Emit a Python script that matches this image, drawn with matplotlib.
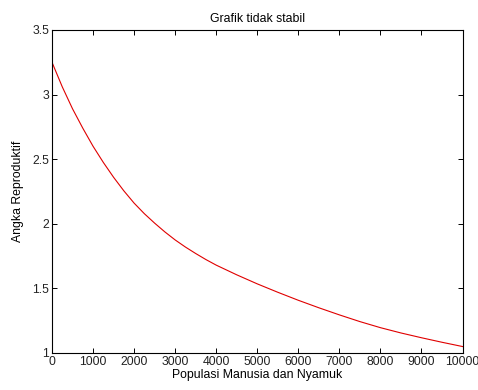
import matplotlib
matplotlib.use("Agg")
import matplotlib.pyplot as plt

# Data
populasi = [0, 250, 500, 750, 1000, 1250, 1500, 1750, 2000, 2250, 2500, 2750,
            3000, 3250, 3500, 3750, 4000, 4500, 5000,
            5500, 6000, 6500, 7000, 7500, 8000, 8500, 9000, 9500, 10000]
angka_reproduktif = [3.25, 3.06, 2.89, 2.74, 2.60, 2.475, 2.36, 2.255, 2.16, 2.078, 2.005, 1.937,
                     1.875, 1.82, 1.77, 1.723, 1.68, 1.605, 1.535,
                     1.47, 1.408, 1.35, 1.295, 1.243, 1.196, 1.155, 1.118, 1.083, 1.05]
x_ticks = [0, 1000, 2000, 3000, 4000, 5000, 6000, 7000, 8000, 9000, 10000]
y_ticks = [1, 1.5, 2, 2.5, 3, 3.5]
title = "Grafik tidak stabil"
xlabel = "Populasi Manusia dan Nyamuk"
ylabel = "Angka Reproduktif"

plt.rcParams['font.family'] = ['Liberation Sans', 'DejaVu Sans']

fig = plt.figure(figsize=(4.78, 3.90), dpi=100)
ax = fig.add_axes([0.1088, 0.0949, 0.9676 - 0.1088, 0.9231 - 0.0949])

ax.plot(populasi, angka_reproduktif, color='#e00000', linewidth=0.8)

ax.set_xlim(0, 10000)
ax.set_ylim(1, 3.5)
ax.set_xticks(x_ticks)
ax.set_yticks(y_ticks)
ax.set_xticklabels([str(t) for t in x_ticks])
ax.set_yticklabels(['1', '1.5', '2', '2.5', '3', '3.5'])

ax.tick_params(direction='in', length=3.5, width=0.7, top=True, right=True,
               labelsize=8.8, pad=2, colors='black', labelcolor='#222222')
for s in ax.spines.values():
    s.set_linewidth(0.8)

ax.set_title(title, fontsize=8.8, pad=6)
ax.set_xlabel(xlabel, fontsize=8.8, labelpad=1)
ax.set_ylabel(ylabel, fontsize=8.8, labelpad=6)

fig.savefig("out.png", dpi=100)
